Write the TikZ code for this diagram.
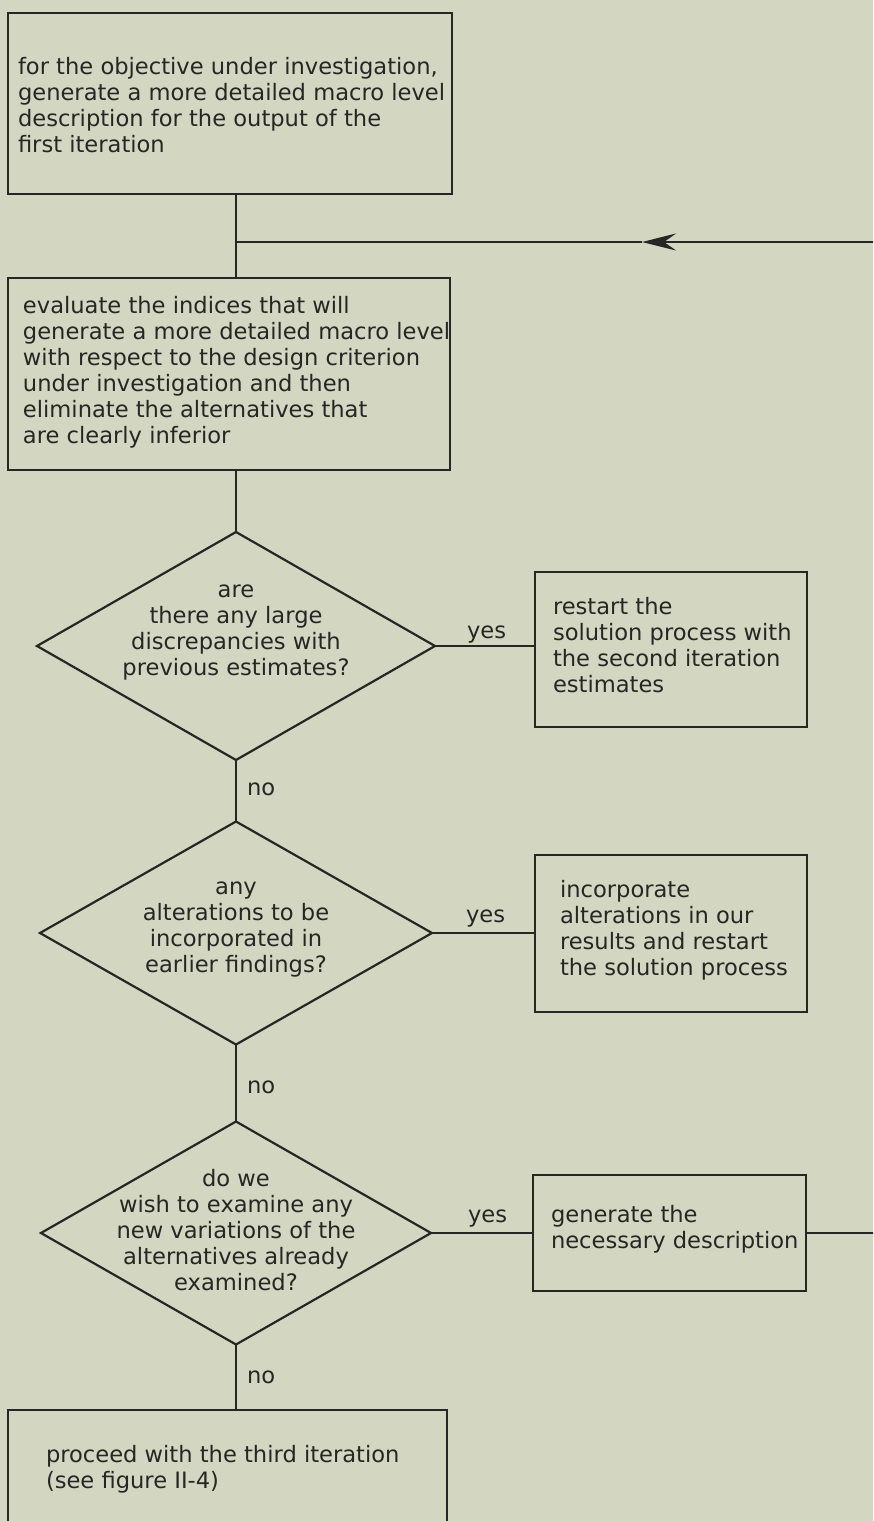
\documentclass[tikz,border=0pt]{standalone}
\usepackage{fontspec}
\setmainfont{DejaVu Sans}
\usetikzlibrary{shapes.geometric,arrows.meta}
\definecolor{paper}{RGB}{211,215,194}
\definecolor{ink}{RGB}{38,38,36}
\begin{document}
\begin{tikzpicture}[x=1pt,y=-1pt,
  every node/.style={font=\fontsize{22.6pt}{26pt}\selectfont, text=ink, inner sep=0pt, outer sep=0pt},
  stepbox/.style={draw=ink, line width=2.8pt, rectangle},
  decision/.style={draw=ink, line width=2.2pt, diamond},
  boxtext/.style={anchor=base west, align=left},
  dtext/.style={anchor=base, align=center},
  tag/.style={anchor=base west},
  link/.style={draw=ink, line width=2.2pt}]
\useasboundingbox (0,0) rectangle (873,1521);
\fill[paper] (0,0) rectangle (873,1521);
\clip (0,0) rectangle (873,1521);

% process boxes
\node[stepbox, minimum width=444pt, minimum height=181pt] (b1) at (230,103.5) {};
\node[stepbox, minimum width=442pt, minimum height=192pt] (b2) at (229,374) {};
\node[stepbox, minimum width=272pt, minimum height=155pt] (b3) at (671,649.5) {};
\node[stepbox, minimum width=272pt, minimum height=157pt] (b4) at (671,933.5) {};
\node[stepbox, minimum width=273pt, minimum height=116pt] (b5) at (669.5,1233) {};
\node[stepbox, minimum width=439pt, minimum height=120pt] (b6) at (227.5,1470) {};

% decisions
\node[decision, minimum width=398pt, minimum height=228pt] (d1) at (236,646) {};
\node[decision, minimum width=392pt, minimum height=223pt] (d2) at (236,933) {};
\node[decision, minimum width=390pt, minimum height=223pt] (d3) at (236,1233) {};

% box texts (anchored on the baseline of their last line)
\node[boxtext] (t1) at (18,152) {for the objective under investigation,\\generate a more detailed macro level\\description for the output of the\\first iteration};
\node[boxtext] (t2) at (23,443) {evaluate the indices that will\\generate a more detailed macro level\\with respect to the design criterion\\under investigation and then\\eliminate the alternatives that\\are clearly inferior};
\node[boxtext] (t3) at (553,692) {restart the\\solution process with\\the second iteration\\estimates};
\node[boxtext] (t4) at (560,975) {incorporate\\alterations in our\\results and restart\\the solution process};
\node[boxtext] (t5) at (551,1248) {generate the\\necessary description};
\node[boxtext] (t6) at (46,1488) {proceed with the third iteration\\(see figure II-4)};

% decision texts
\node[dtext] (q1) at (236,675) {are\\there any large\\discrepancies with\\previous estimates?};
\node[dtext] (q2) at (236,972) {any\\alterations to be\\incorporated in\\earlier findings?};
\node[dtext] (q3) at (236,1290) {do we\\wish to examine any\\new variations of the\\alternatives already\\examined?};

% branch labels
\node[tag] (y1) at (467,638) {yes};
\node[tag] (y2) at (466,922) {yes};
\node[tag] (y3) at (468,1222) {yes};
\node[tag] (n1) at (247,795) {no};
\node[tag] (n2) at (247,1093) {no};
\node[tag] (n3) at (247,1383) {no};

% feedback line and its junction
\coordinate (r1) at (880,242);
\coordinate (tipA) at (642,242);
\coordinate (j1) at (236,242);
\coordinate (r2) at (880,1233);

\draw[link] (b1.south -| d1.north) -- (b2.north -| d1.north);
\draw[link, -{Stealth[length=34pt,width=17pt,inset=12pt]}] (r1) -- (tipA);
\draw[link] (tipA) -- (j1);
\draw[link] (b2.south -| d1.north) -- (d1.north);
\draw[link] (d1.east) -- (d1.east -| b3.west);
\draw[link] (d1.south) -- (d2.north);
\draw[link] (d2.east) -- (d2.east -| b4.west);
\draw[link] (d2.south) -- (d3.north);
\draw[link] (d3.east) -- (d3.east -| b5.west);
\draw[link] (b5.east) -- (r2);
\draw[link] (d3.south) -- (d3.south |- b6.north);
\end{tikzpicture}
\end{document}
